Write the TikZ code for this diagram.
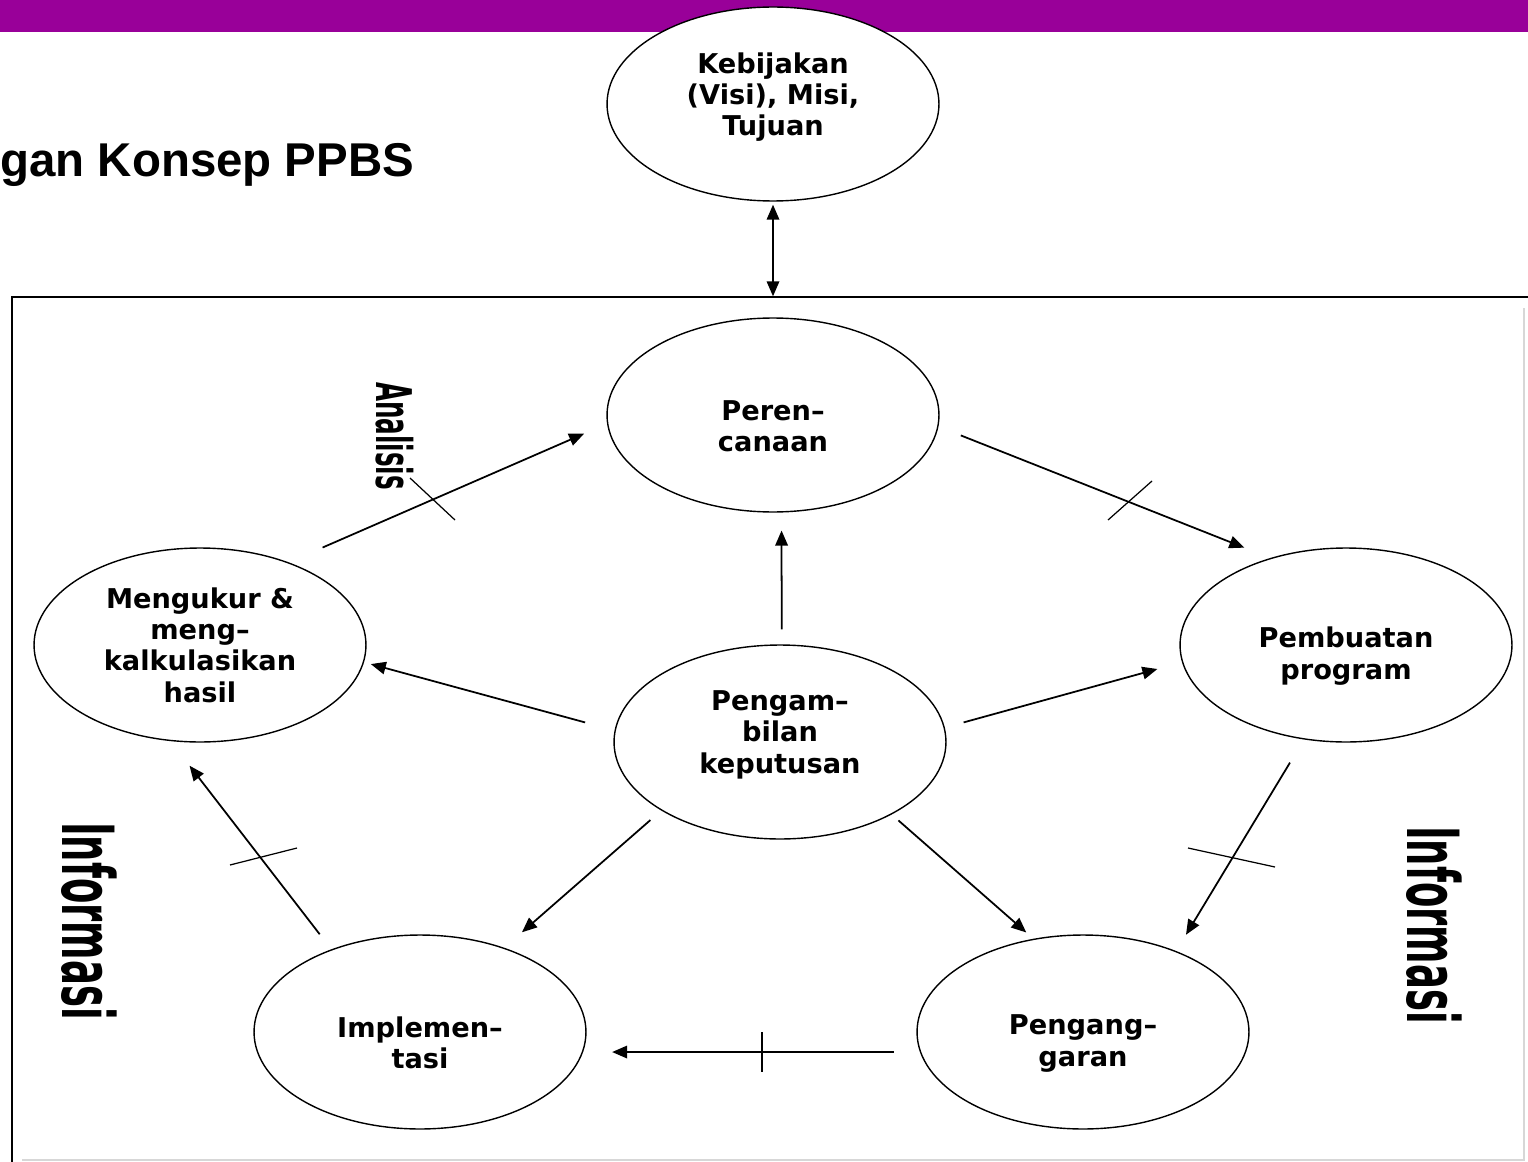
\documentclass[tikz,border=0pt]{standalone}
\usepackage{fontspec}
\setmainfont{DejaVu Sans}
\newfontfamily\titlefont{Liberation Sans}
\usetikzlibrary{arrows.meta, shapes.geometric}
\definecolor{barpurple}{RGB}{153,0,153}
\definecolor{framegray}{RGB}{215,215,215}
\newcommand{\dropstrut}{\rule{0pt}{0.86cm}}
\newcommand{\liftstrut}{\rule[-0.40cm]{0pt}{0.40cm}}

\begin{document}
\begin{tikzpicture}[x=0.02cm, y=-0.02cm,
        phase/.style={ellipse, draw, line width=0.8pt, fill=white, minimum width=6.64cm, minimum height=3.88cm, align=center, inner sep=0pt, font=\fontsize{15.5}{17.8}\selectfont\bfseries},
        flow/.style={-{Triangle[length=0.3cm, width=0.25cm]}, line width=1pt},
        flowboth/.style={{Triangle[length=0.3cm, width=0.25cm]}-{Triangle[length=0.3cm, width=0.25cm]}, line width=1pt},
        tick/.style={line width=0.7pt},
        sidelabel/.style={rotate=-90, inner sep=0pt, font=\bfseries}
        ]
        \useasboundingbox (0,0) rectangle (1528,1162);

        % Frame
        \fill[barpurple] (0,0) rectangle (1528,32);
        \draw[framegray, line width=0.6pt] (22,1160) -- (1524,1160) -- (1524,308);
        \draw[line width=1.2pt] (12,1162) -- (12,297) -- (1528,297);

        % Title
        \node[anchor=base west, inner sep=0pt, font=\titlefont\bfseries\fontsize{27}{27}\selectfont] (title) at (0,177) {gan Konsep PPBS};

        % Nodes
        \node[phase] (kebijakan) at (773,104) {Kebijakan\\(Visi), Misi,\\Tujuan\liftstrut};
        \node[phase] (perencanaan) at (773,415) {\dropstrut Peren–\\canaan};
        \node[phase] (pembuatan) at (1346,645) {\dropstrut Pembuatan\\program};
        \node[phase] (mengukur) at (200,645) {Mengukur \&\\meng–\\kalkulasikan\\hasil};
        \node[phase] (keputusan) at (780,742) {Pengam–\\bilan\\keputusan\liftstrut};
        \node[phase] (implementasi) at (420,1032) {\dropstrut Implemen–\\tasi};
        \node[phase] (penganggaran) at (1083,1032) {\dropstrut Pengang–\\garan};

        % Side labels
        \node[sidelabel] (analisis) at (395,436) {\scalebox{1}[2.0]{\fontsize{14}{14}\selectfont Analisis}};
        \node[sidelabel] (infokiri) at (89,921) {\scalebox{1}[1.95]{\fontsize{21}{21}\selectfont Informasi}};
        \node[sidelabel] (infokanan) at (1434,925) {\scalebox{1}[1.95]{\fontsize{21}{21}\selectfont Informasi}};

        % Arrows
        \draw[flowboth, shorten <=0.06cm, shorten >=0.42cm] (kebijakan.south) -- (perencanaan.north);
        \draw[flow, shorten <=0.74cm, shorten >=0.50cm] (mengukur.43) -- (perencanaan.183);
        \draw[flow, shorten <=0.48cm, shorten >=0.56cm] (perencanaan.356) -- (pembuatan.131);
        \draw[flow, shorten <=0.54cm, shorten >=0.38cm] (pembuatan.246) -- (penganggaran.41);
        \draw[flow, shorten <=0.52cm, shorten >=0.58cm] (penganggaran.187) -- (implementasi.353);
        \draw[flow, shorten <=0.38cm, shorten >=0.62cm] (implementasi.137) -- (mengukur.253);
        \draw[flow, shorten <=0.30cm, shorten >=0.36cm] (keputusan.89) -- (perencanaan.275);
        \draw[flow, shorten <=0.61cm, shorten >=0.14cm] (keputusan.176) -- (mengukur.354);
        \draw[flow, shorten <=0.39cm, shorten >=0.51cm] (keputusan.5) -- (pembuatan.186);
        \draw[flow, shorten <=0.29cm, shorten >=0.47cm] (keputusan.210) -- (implementasi.45);
        \draw[flow, shorten <=0.18cm, shorten >=0.19cm] (keputusan.327) -- (penganggaran.118);

        % Cross marks
        \draw[tick] (410,478) -- (455,520);
        \draw[tick] (1108,520) -- (1152,481);
        \draw[tick] (1188,848) -- (1275,867);
        \draw[tick] (762,1032) -- (762,1072);
        \draw[tick] (230,865) -- (297,848);

    \end{tikzpicture}
\end{document}
